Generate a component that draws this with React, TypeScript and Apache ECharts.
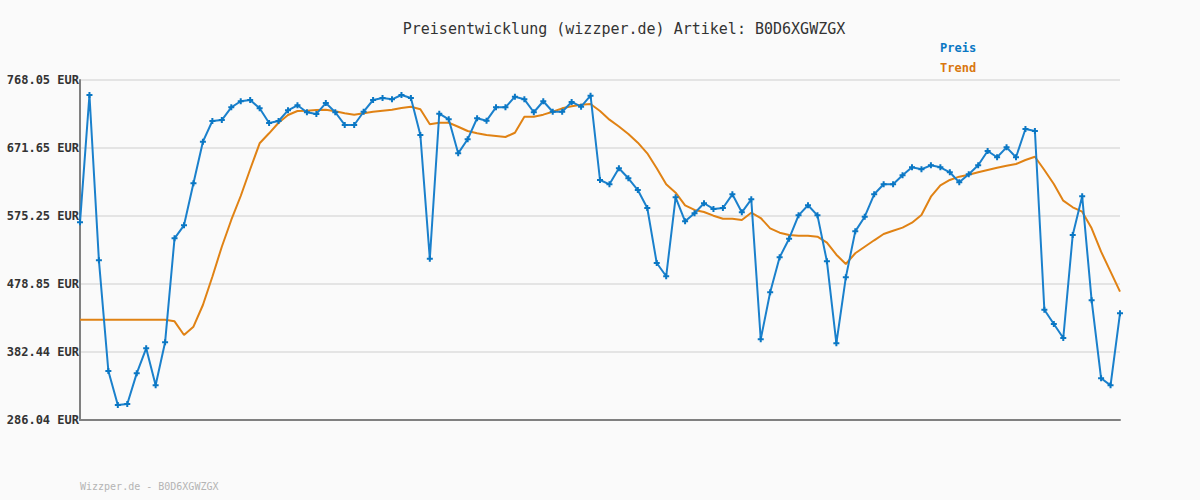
import React, { useEffect, useRef } from "react";
import * as echarts from "echarts";

const titleText = "Preisentwicklung (wizzper.de) Artikel: B0D6XGWZGX";
const footerText = "Wizzper.de - B0D6XGWZGX";
const seriesNames = ["Preis", "Trend"];
const yTickLabels = ["286.04", "382.44", "478.85", "575.25", "671.65", "768.05"];
const yMin = 286.04;
const yMax = 768.05;

const preis = [
  566.3, 746.8, 512.4, 355.5, 307.3, 308.7, 352.2, 387.7, 335.2, 396.2,
  543.6, 562.0, 621.6, 680.6, 709.9, 711.3, 729.3, 737.9, 739.7, 727.9,
  707.1, 709.9, 725.1, 732.2, 722.3, 719.9, 735.4, 722.3, 704.3, 704.3,
  723.1, 739.7, 742.5, 740.7, 746.8, 742.5, 690.1, 514.7, 720.3, 712.3,
  664.1, 684.0, 713.8, 710.4, 729.3, 729.3, 744.4, 740.7, 722.3, 737.9,
  723.1, 723.1, 736.9, 730.2, 745.8, 626.3, 620.2, 642.9, 628.7, 612.1,
  586.6, 508.6, 489.8, 601.8, 567.7, 579.1, 593.3, 585.2, 586.6, 606.0,
  580.5, 598.9, 400.4, 467.1, 516.7, 543.1, 576.2, 590.4, 576.2, 511.0,
  394.8, 488.3, 553.5, 574.3, 606.0, 620.2, 620.2, 632.9, 644.3, 641.5,
  647.1, 644.3, 637.2, 623.0, 634.4, 647.1, 667.4, 658.5, 672.6, 658.5,
  698.6, 695.7, 442.4, 422.1, 402.3, 548.3, 603.2, 455.7, 345.2, 335.2,
  437.3,
];

const trend = [
  428.2, 428.2, 428.2, 428.2, 428.2, 428.2, 428.2, 428.2, 428.2, 428.2,
  425.9, 406.5, 418.3, 449.1, 489.2, 531.7, 569.6, 603.6, 641.5, 678.3,
  692.5, 707.5, 718.4, 724.1, 724.5, 725.5, 725.9, 723.7, 720.8, 718.9,
  720.8, 723.1, 724.5, 725.9, 728.4, 730.2, 726.5, 705.2, 707.5, 707.5,
  701.8, 695.7, 692.5, 690.1, 688.7, 687.2, 693.3, 716.0, 716.0, 718.9,
  723.1, 727.9, 730.8, 733.0, 734.0, 724.1, 711.8, 702.1, 691.5, 679.2,
  664.1, 642.9, 620.2, 608.3, 590.4, 583.8, 580.9, 575.7, 571.4, 571.4,
  569.6, 579.9, 572.4, 557.8, 551.6, 548.3, 547.3, 547.3, 545.9, 537.4,
  520.4, 507.2, 522.4, 531.7, 540.8, 549.7, 554.4, 558.7, 565.7, 576.7,
  602.6, 618.8, 626.3, 631.0, 633.8, 637.2, 640.5, 643.7, 646.6, 649.0,
  654.6, 659.3, 640.5, 620.6, 597.0, 587.6, 581.4, 557.8, 524.7, 496.3,
  468.0,
];

const categories = preis.map((_, i) => String(i + 1));

const BLUE = "#1a80cc";
const ORANGE = "#e08214";
const MONO = "'DejaVu Sans Mono', 'Liberation Mono', monospace";

export default function App() {
  const ref = useRef<HTMLDivElement>(null);
  useEffect(() => {
    if (!ref.current) return;
    const chart = echarts.init(ref.current, undefined, { renderer: "svg" });
    const interval = (yMax - yMin) / (yTickLabels.length - 1);
    chart.setOption({
      animation: false,
      backgroundColor: "#fafafa",
      title: {
        text: titleText,
        left: 619,
        textAlign: "center",
        top: 16,
        textStyle: { fontFamily: MONO, fontSize: 15, fontWeight: "normal", color: "#333" },
      },
      legend: {
        orient: "vertical",
        left: 930,
        top: 36,
        icon: "none",
        itemWidth: 0,
        itemHeight: 14,
        itemGap: 7,
        selectedMode: false,
        data: [
          { name: seriesNames[0], textStyle: { color: "#0a77c4" } },
          { name: seriesNames[1], textStyle: { color: "#d9770f" } },
        ],
        textStyle: { fontFamily: MONO, fontSize: 12, fontWeight: "bold", padding: 0 },
      },
      graphic: [
        {
          type: "text",
          left: 80,
          top: 481,
          style: { text: footerText, font: `10px ${MONO}`, fill: "#b4b4b4" },
        },
      ],
      grid: { left: 80, right: 80, top: 80, bottom: 80, containLabel: false },
      xAxis: {
        type: "category",
        data: categories,
        boundaryGap: false,
        axisLine: { show: true, lineStyle: { color: "#808080", width: 2 } },
        axisTick: { show: false },
        axisLabel: { show: false },
        splitLine: { show: false },
      },
      yAxis: {
        type: "value",
        min: yMin,
        max: yMax,
        interval,
        axisLine: { show: true, lineStyle: { color: "#808080", width: 2 } },
        axisTick: { show: false },
        axisLabel: {
          margin: 1,
          fontFamily: MONO,
          fontSize: 12,
          fontWeight: "bold",
          color: "#333",
          formatter: (v: number) => {
            const idx = Math.round((v - yMin) / interval);
            return (yTickLabels[idx] ?? v.toFixed(2)) + " EUR";
          },
        },
        splitLine: { show: true, lineStyle: { color: "#e4e4e4", width: 2 } },
      },
      series: [
        {
          name: seriesNames[0],
          type: "line",
          data: preis,
          z: 3,
          lineStyle: { color: BLUE, width: 2 },
          itemStyle: { color: "#0a77c4" },
          symbol: "path://M2,0L4,0L4,2L6,2L6,4L4,4L4,6L2,6L2,4L0,4L0,2L2,2Z",
          symbolSize: 6,
          showSymbol: true,
        },
        {
          name: seriesNames[1],
          type: "line",
          data: trend,
          z: 2,
          lineStyle: { color: ORANGE, width: 2 },
          itemStyle: { color: ORANGE },
          symbol: "none",
        },
      ],
    });
    return () => chart.dispose();
  }, []);
  return (
    <div
      ref={ref}
      style={{ position: "fixed", left: 0, top: 0, width: 1200, height: 500 }}
    />
  );
}
